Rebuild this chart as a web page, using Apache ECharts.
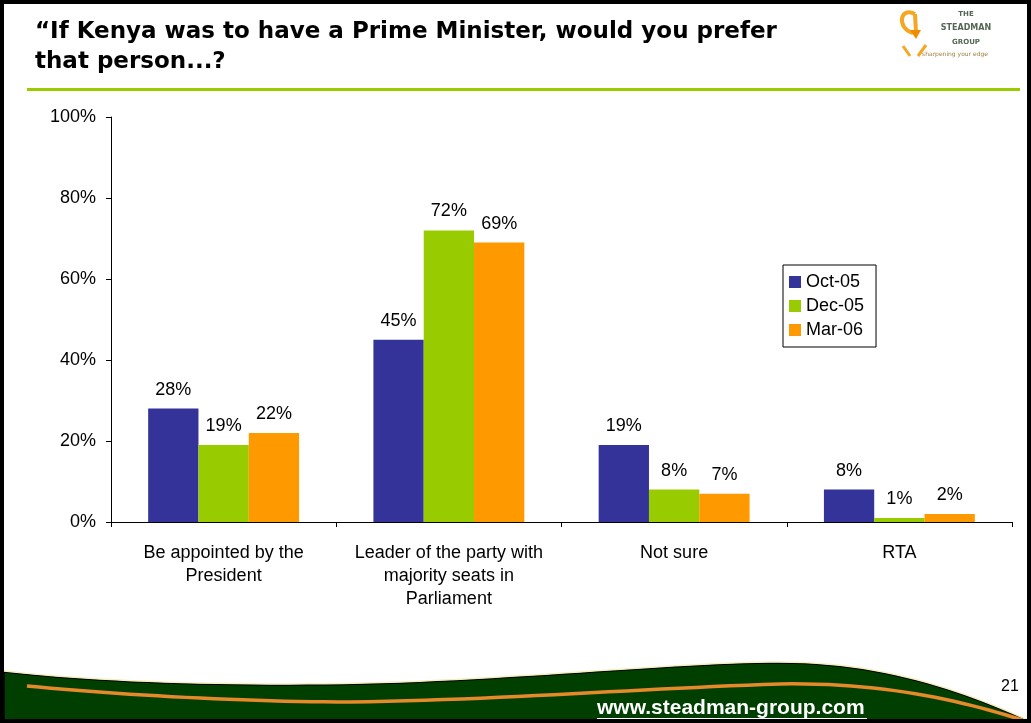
<!DOCTYPE html>
<html>
<head>
<meta charset="utf-8">
<script src="https://cdn.jsdelivr.net/npm/echarts@6/dist/echarts.min.js"></script>
<style>html,body{margin:0;padding:0;background:#fff}#c{width:1031px;height:723px}</style>
</head>
<body>
<div id="c"></div>
<script>
var categories = ['Be appointed by the\nPresident', 'Leader of the party with\nmajority seats in\nParliament', 'Not sure', 'RTA'];
var oct05 = [28, 45, 19, 8];
var dec05 = [19, 72, 8, 1];
var mar06 = [22, 69, 7, 2];
var seriesNames = ['Oct-05', 'Dec-05', 'Mar-06'];
var yTicks = [0, 20, 40, 60, 80, 100];
var titleLines = ['\u201cIf Kenya was to have a Prime Minister, would you prefer', 'that person...?'];

// decoration helper: sample cubic bezier segments into points
function bez(start, segs) {
  var pts = [start.slice()], p0 = start;
  segs.forEach(function (s) {
    for (var i = 1; i <= 24; i++) {
      var t = i / 24, u = 1 - t;
      pts.push([
        u*u*u*p0[0] + 3*u*u*t*s[0] + 3*u*t*t*s[2] + t*t*t*s[4],
        u*u*u*p0[1] + 3*u*u*t*s[1] + 3*u*t*t*s[3] + t*t*t*s[5]
      ]);
    }
    p0 = [s[4], s[5]];
  });
  return pts;
}
var waveTop = bez([4, 672], [[100, 683, 250, 688, 400, 683], [550, 677, 690, 663, 780, 663], [880, 663, 960, 690, 1030, 722]]);
var waveFill = waveTop.concat([[1030, 722], [4, 722]]);
var waveEdge = bez([4, 671], [[100, 682, 250, 687, 400, 682], [550, 676, 690, 662, 780, 662], [880, 662, 960, 689, 1030, 721]]);
var stripe = bez([27, 686], [[120, 695, 250, 702, 350, 702], [500, 700, 650, 688, 780, 684], [880, 682, 960, 700, 1022, 720]]);

var chart = echarts.init(document.getElementById('c'));
var colors = ['#333399', '#99cc00', '#ff9900'];
var lbl = {show: true, position: 'top', distance: 10, color: '#000', fontSize: 18, fontFamily: 'Liberation Sans, Arial', formatter: '{c}%'};
function mk(name, data, i) {
  return {name: name, type: 'bar', data: data, barGap: '0%', barCategoryGap: '33%',
    itemStyle: {color: colors[i]}, label: lbl, z: 3};
}
function txt(x, y, s, font, fill, align) {
  return {type: 'text', x: x, y: y, style: {text: s, font: font, fill: fill, align: align || 'left', verticalAlign: 'middle'}};
}
chart.setOption({
  animation: false,
  backgroundColor: '#fff',
  grid: {left: 111, right: 19, top: 117, bottom: 201},
  legend: {
    data: seriesNames, orient: 'vertical', left: 783, top: 265,
    itemWidth: 12, itemHeight: 12, itemGap: 6,
    padding: [8, 12, 8, 6], borderColor: '#000', borderWidth: 1,
    icon: 'rect',
    textStyle: {fontSize: 18, color: '#000', fontFamily: 'Liberation Sans, Arial'}
  },
  xAxis: {
    type: 'category', data: categories,
    axisLine: {lineStyle: {color: '#000', width: 1}},
    axisTick: {show: true, length: 5, lineStyle: {color: '#000'}},
    axisLabel: {color: '#000', fontSize: 18, fontFamily: 'Liberation Sans, Arial', lineHeight: 23, margin: 20, interval: 0}
  },
  yAxis: {
    type: 'value', min: 0, max: 100, interval: 20,
    axisLine: {show: true, lineStyle: {color: '#000', width: 1}},
    axisTick: {show: true, length: 5, lineStyle: {color: '#000'}},
    splitLine: {show: false},
    axisLabel: {color: '#000', fontSize: 18, fontFamily: 'Liberation Sans, Arial', margin: 15,
      formatter: function (v) { return yTicks.indexOf(v) >= 0 ? v + '%' : ''; }}
  },
  series: [mk(seriesNames[0], oct05, 0), mk(seriesNames[1], dec05, 1), mk(seriesNames[2], mar06, 2)],
  graphic: [
    txt(35, 32, titleLines[0], 'bold 23px "DejaVu Sans", Verdana', '#000'),
    txt(35, 62, titleLines[1], 'bold 23px "DejaVu Sans", Verdana', '#000'),
    {type: 'rect', shape: {x: 27, y: 88, width: 993, height: 3}, style: {fill: '#99cc00'}},
    // logo
    {type: 'bezierCurve', shape: {x1: 913, y1: 33, cpx1: 896, cpy1: 28, cpx2: 900, cpy2: 6, x2: 915, y2: 14}, style: {fill: 'none', stroke: '#f5a623', lineWidth: 4}},
    {type: 'line', shape: {x1: 915, y1: 14, x2: 916, y2: 32}, style: {stroke: '#f5a623', lineWidth: 4}},
    {type: 'polygon', shape: {points: [[910, 30], [916, 39], [921, 30]]}, style: {fill: '#f08c00'}},
    {type: 'line', shape: {x1: 903, y1: 46, x2: 910, y2: 56}, style: {stroke: '#f5a623', lineWidth: 3}},
    {type: 'line', shape: {x1: 926, y1: 45, x2: 918, y2: 56}, style: {stroke: '#f5a623', lineWidth: 3}},
    txt(966, 14, 'THE', 'bold 7px "DejaVu Sans"', '#556655', 'center'),
    txt(966, 28, 'STEADMAN', 'bold 8px "DejaVu Sans"', '#556655', 'center'),
    txt(966, 42, 'GROUP', 'bold 7px "DejaVu Sans"', '#556655', 'center'),
    txt(955, 54, 'sharpening your edge', '6px "DejaVu Sans"', '#a08040', 'center'),
    // footer wave
    {type: 'polygon', shape: {points: waveFill}, style: {fill: '#003f00', stroke: '#000', lineWidth: 1.5}},
    {type: 'polyline', shape: {points: waveEdge}, style: {fill: 'none', stroke: '#f3efc0', lineWidth: 1.5}},
    {type: 'polyline', shape: {points: stripe}, style: {fill: 'none', stroke: '#e5892b', lineWidth: 3.5}},
    txt(597, 708, 'www.steadman-group.com', 'bold 21px "Liberation Sans", Arial', '#fff'),
    {type: 'rect', shape: {x: 597, y: 718, width: 270, height: 1.5}, style: {fill: '#fff'}},
    txt(1010, 687, '21', '16px "Liberation Sans", Arial', '#000', 'center'),
    // frame
    {type: 'rect', shape: {x: 2, y: 2, width: 1027, height: 719}, style: {fill: 'none', stroke: '#000', lineWidth: 4}, z: 10}
  ]
});
</script>
</body>
</html>
